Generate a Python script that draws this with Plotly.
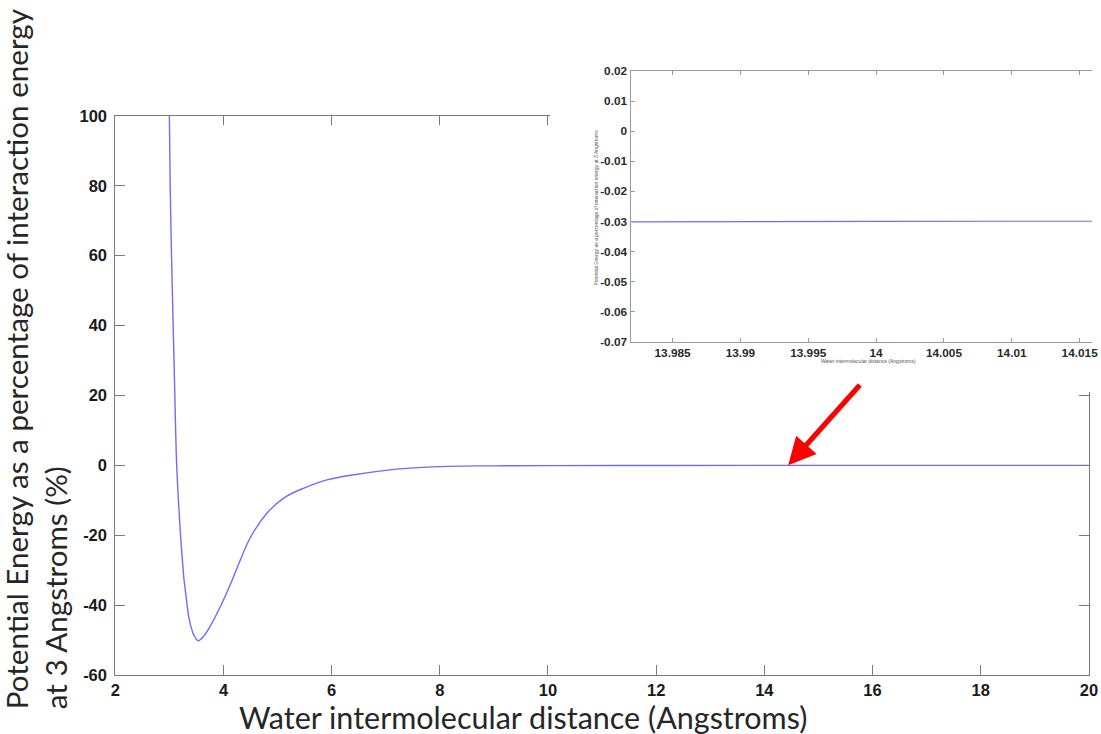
import plotly.graph_objects as go

# Interaction potential of two water molecules (energy as % of the value at 3 Angstroms)
distance = [3.00, 3.015, 3.04, 3.07, 3.095, 3.135, 3.20, 3.24, 3.27, 3.30, 3.36, 3.43,
            3.46, 3.53, 3.64, 3.76, 3.95, 4.14, 4.30, 4.51, 4.81, 5.12, 5.49, 5.93,
            6.42, 7.2, 8.15, 9.0, 10.0, 12.0, 14.0, 16.0, 18.0, 20.0]
energy = [100, 80, 60, 40, 24, 0, -18.4, -27.0, -32.6, -36.4, -43.5, -47.8,
          -48.8, -50.2, -48.8, -45.9, -40.2, -33.6, -27.5, -20.3, -13.6, -9.3, -6.5, -4.1,
          -2.7, -1.1, -0.3, -0.15, -0.08, -0.05, -0.03, -0.02, -0.015, -0.01]

# Axis ticks of the main panel
main_xticks = [2, 4, 6, 8, 10, 12, 14, 16, 18, 20]
main_yticks = [-60, -40, -20, 0, 20, 40, 60, 80, 100]
main_yticklabels = ["-60", "-40", "-20", "0", "20", "40", "60", "80", "100"]

# Axis ticks of the zoomed panel around 14 Angstroms
zoom_xticks = [13.985, 13.99, 13.995, 14.0, 14.005, 14.01, 14.015]
zoom_xticklabels = ["13.985", "13.99", "13.995", "14", "14.005", "14.01", "14.015"]
zoom_yticks = [-0.07, -0.06, -0.05, -0.04, -0.03, -0.02, -0.01, 0.0, 0.01, 0.02]
zoom_yticklabels = ["-0.07", "-0.06", "-0.05", "-0.04", "-0.03", "-0.02", "-0.01", "0", "0.01", "0.02"]

# Arrow pointing at the zoomed region
arrow_x = 14.44
arrow_y = 0.0

W, H = 1101, 734
# The html body keeps its default 8px margin, so the page (figure + margins)
# is fitted to the viewport; positions below are given in viewport pixels.
BODY_MARGIN = 8
SX = W / (W + 2 * BODY_MARGIN)
SY = H / (H + 2 * BODY_MARGIN)

LINE_COLOR = "#6c6cff"
AXIS_COLOR = "#7a7a7a"
ZOOM_AXIS_COLOR = "#9a9a9a"
TICK_FONT = dict(family="Liberation Sans, Arial, sans-serif", size=16.5, color="#1a1a1a", weight=700)
SMALL_TICK_FONT = dict(family="Liberation Sans, Arial, sans-serif", size=11.8, color="#2a2a2a", weight=700)
XTITLE_FONT = dict(family="Lato, Open Sans, sans-serif", size=30.5, color="#262626")
YTITLE_FONT = dict(family="Lato, Open Sans, sans-serif", size=29.6, color="#262626")


def px(x):
    """viewport x pixel -> paper fraction"""
    return (x / SX - BODY_MARGIN) / W


def py(y):
    """viewport y pixel -> paper fraction"""
    return 1 - (y / SY - BODY_MARGIN) / H


fig = go.Figure()

# main curve
fig.add_trace(go.Scatter(x=distance, y=energy, mode="lines",
                         line=dict(color=LINE_COLOR, width=1.4, shape="spline", smoothing=1.0),
                         xaxis="x", yaxis="y", showlegend=False, hoverinfo="skip"))
# placeholder so the backing panel subplot exists
fig.add_trace(go.Scatter(x=[], y=[], xaxis="x2", yaxis="y2", showlegend=False))
# zoomed curve
fig.add_trace(go.Scatter(x=distance, y=energy, mode="lines", line=dict(color=LINE_COLOR, width=1.2),
                         xaxis="x3", yaxis="y3", showlegend=False, hoverinfo="skip"))

axis_common = dict(showgrid=False, zeroline=False, showline=True, linecolor=AXIS_COLOR, linewidth=1,
                   ticks="inside", tickcolor=AXIS_COLOR, mirror="ticks", ticklen=9.5)
zoom_common = dict(showgrid=False, zeroline=False, showline=True, linecolor=ZOOM_AXIS_COLOR, linewidth=1,
                   ticks="inside", tickcolor=ZOOM_AXIS_COLOR, ticklen=4, tickfont=SMALL_TICK_FONT)

fig.update_layout(
    width=W, height=H,
    margin=dict(l=0, r=0, t=0, b=0),
    paper_bgcolor="white", plot_bgcolor="rgba(0,0,0,0)",
    showlegend=False,
    xaxis=dict(**axis_common, domain=[px(118), px(1090)], range=[2, 20], tickvals=main_xticks,
               tickfont=TICK_FONT, ticklabeloverflow="allow", anchor="y"),
    yaxis=dict(**axis_common, domain=[py(676), py(115)], range=[-60, 100], tickvals=main_yticks,
               ticktext=main_yticklabels, tickfont=TICK_FONT, ticklabelstandoff=4, anchor="x"),
    # white backing panel behind the zoomed view
    xaxis2=dict(domain=[px(552), 1.0], range=[0, 1], visible=False, anchor="y2", fixedrange=True),
    yaxis2=dict(domain=[py(392), 1.0], range=[0, 1], visible=False, anchor="x2", fixedrange=True),
    xaxis3=dict(**zoom_common, mirror="ticks", ticklabeloverflow="allow",
                domain=[px(633.3), 1.0], range=[13.98197, 14.01591], tickvals=zoom_xticks,
                ticktext=zoom_xticklabels, anchor="y3"),
    yaxis3=dict(**zoom_common, ticklabelstandoff=1,
                domain=[py(341.7), py(70)], range=[-0.07, 0.02], tickvals=zoom_yticks,
                ticktext=zoom_yticklabels, anchor="x3"),
)

fig.add_shape(type="rect", xref="x2", yref="y2", x0=0, x1=1, y0=0, y1=1,
              fillcolor="white", line=dict(width=0), layer="below")

# axis titles of the main panel
fig.add_annotation(text="Water intermolecular distance (Angstroms)", xref="paper", yref="paper",
                   x=px(525), y=py(718), xanchor="center", yanchor="middle", showarrow=False, font=XTITLE_FONT)
fig.add_annotation(text="Potential Energy as a percentage of interaction energy<br>at 3 Angstroms (%)",
                   xref="paper", yref="paper", x=px(38), y=py(359), xanchor="center", yanchor="middle",
                   textangle=-90, align="left", showarrow=False, font=YTITLE_FONT)

# axis titles of the zoomed panel
SMALL_TITLE = dict(family="Liberation Sans, Arial, sans-serif", size=5, color="#555555")
fig.add_annotation(text="Water intermolecular distance (Angstroms)", xref="paper", yref="paper",
                   x=px(870), y=py(360.5), xanchor="center", yanchor="middle", showarrow=False, font=SMALL_TITLE)
fig.add_annotation(text="Potential Energy as a percentage of interaction energy at 3 Angstroms",
                   xref="paper", yref="paper", x=px(597), y=py(207), xanchor="center", yanchor="middle",
                   textangle=-90, showarrow=False, font=SMALL_TITLE)

# red arrow
fig.add_annotation(x=arrow_x, y=arrow_y, xref="x", yref="y", text="", showarrow=True,
                   ax=72 / SX, ay=-80 / SY, arrowcolor="#ff0000", arrowwidth=5.2, arrowhead=2,
                   arrowsize=1.05, standoff=0)

fig.write_html("out.html")
